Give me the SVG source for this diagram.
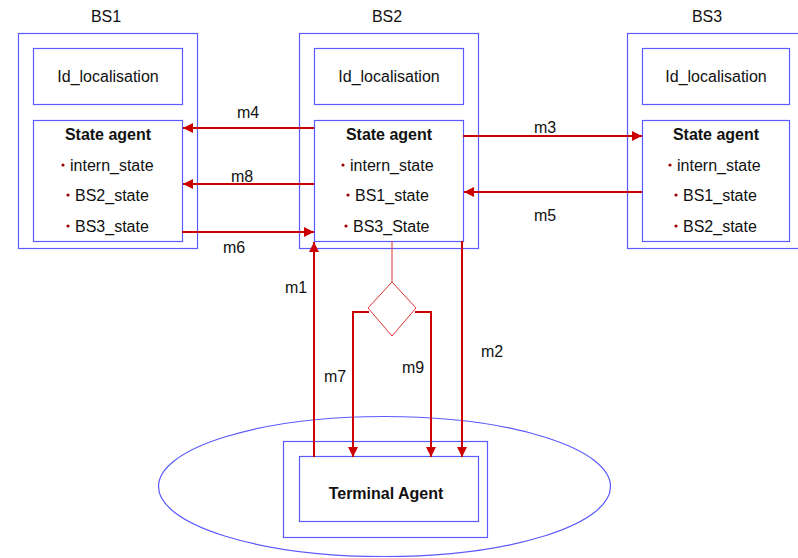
<svg xmlns="http://www.w3.org/2000/svg" width="798" height="558" viewBox="0 0 798 558">
<defs>
<style>
.box{fill:none;stroke:#5a5aff;stroke-width:1.2}
.t{font-family:"Liberation Sans",Arial,sans-serif;font-size:16px;fill:#111}
.c{text-anchor:middle}
.b{font-weight:bold}
.ar{fill:none;stroke:#cc0000;stroke-width:2}
.thin{fill:none;stroke:#dd3333;stroke-width:1}
.dot{fill:#990000}
</style>
<marker id="ah" viewBox="0 0 10 10" refX="10" refY="5" markerWidth="10" markerHeight="10" markerUnits="userSpaceOnUse" orient="auto">
<path d="M0,0 L10,5 L0,10 z" fill="#cc0000"/>
</marker>
</defs>
<rect width="798" height="558" fill="#fff"/>

<g id="BS1">
<text class="t c" x="106" y="22">BS1</text>
<rect class="box" x="18.5" y="33.5" width="179" height="215"/>
<rect class="box" x="33.5" y="48.5" width="149" height="56"/>
<text class="t c" x="108" y="82">Id_localisation</text>
<rect class="box" x="33.5" y="120.5" width="149" height="121"/>
<text class="t c b" x="108" y="140">State agent</text>
<circle class="dot" cx="63" cy="165" r="1.6"/><text class="t" x="70" y="171">intern_state</text>
<circle class="dot" cx="68" cy="195" r="1.6"/><text class="t" x="75" y="201">BS2_state</text>
<circle class="dot" cx="68" cy="226" r="1.6"/><text class="t" x="75" y="232">BS3_state</text>
</g>

<g id="BS2">
<text class="t c" x="387" y="22">BS2</text>
<rect class="box" x="299.5" y="33.5" width="179" height="215"/>
<rect class="box" x="314.5" y="48.5" width="149" height="56"/>
<text class="t c" x="389" y="82">Id_localisation</text>
<rect class="box" x="314.5" y="120.5" width="149" height="121"/>
<text class="t c b" x="389" y="140">State agent</text>
<circle class="dot" cx="343" cy="165" r="1.6"/><text class="t" x="350" y="171">intern_state</text>
<circle class="dot" cx="348" cy="195" r="1.6"/><text class="t" x="355" y="201">BS1_state</text>
<circle class="dot" cx="346" cy="226" r="1.6"/><text class="t" x="353" y="232">BS3_State</text>
</g>

<g id="BS3">
<text class="t c" x="707" y="22">BS3</text>
<rect class="box" x="627.5" y="33.5" width="172" height="215"/>
<rect class="box" x="642.5" y="48.5" width="147" height="56"/>
<text class="t c" x="716" y="82">Id_localisation</text>
<rect class="box" x="642.5" y="120.5" width="147" height="121"/>
<text class="t c b" x="716" y="140">State agent</text>
<circle class="dot" cx="670" cy="165" r="1.6"/><text class="t" x="677" y="171">intern_state</text>
<circle class="dot" cx="676" cy="195" r="1.6"/><text class="t" x="683" y="201">BS1_state</text>
<circle class="dot" cx="676" cy="226" r="1.6"/><text class="t" x="683" y="232">BS2_state</text>
</g>

<g id="Terminal">
<ellipse class="box" cx="384.5" cy="486.5" rx="226" ry="70"/>
<rect class="box" x="283.5" y="441.5" width="204" height="96"/>
<rect class="box" x="299.5" y="456.5" width="179" height="65"/>
<text class="t c b" x="386" y="499">Terminal Agent</text>
</g>

<g id="decision">
<path class="thin" d="M392,282 L416,308 L392,336 L368,308 Z"/>
</g>

<g id="connectors">
<line class="ar" x1="314" y1="128" x2="183" y2="128" marker-end="url(#ah)"/>
<line class="ar" x1="314" y1="184" x2="183" y2="184" marker-end="url(#ah)"/>
<line class="ar" x1="182" y1="232" x2="314" y2="232" marker-end="url(#ah)"/>
<line class="ar" x1="463" y1="136" x2="642" y2="136" marker-end="url(#ah)"/>
<line class="ar" x1="642" y1="192" x2="464" y2="192" marker-end="url(#ah)"/>
<line class="ar" x1="314" y1="457" x2="314" y2="242" marker-end="url(#ah)"/>
<line class="ar" x1="462" y1="241" x2="462" y2="457" marker-end="url(#ah)"/>
<line class="thin" x1="392" y1="241" x2="392" y2="282"/>
<path class="ar" d="M369,312 L353,312 L353,457" marker-end="url(#ah)"/>
<path class="ar" d="M415,312 L431,312 L431,457" marker-end="url(#ah)"/>
<text class="t c" x="248" y="118">m4</text>
<text class="t c" x="242" y="182">m8</text>
<text class="t c" x="234" y="253">m6</text>
<text class="t c" x="545" y="133">m3</text>
<text class="t c" x="545" y="221">m5</text>
<text class="t c" x="296" y="293">m1</text>
<text class="t c" x="335" y="382">m7</text>
<text class="t c" x="413" y="373">m9</text>
<text class="t c" x="492" y="357">m2</text>
</g>
</svg>
